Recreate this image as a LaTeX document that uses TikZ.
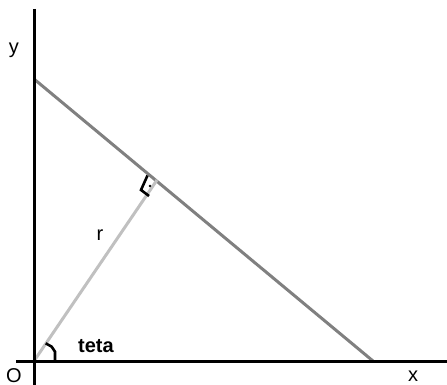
\documentclass[tikz,border=0pt]{standalone}
\usepackage{fontspec}
\setmainfont{Liberation Sans}
\begin{document}
\begin{tikzpicture}[x=1pt,y=-1pt,
  axis/.style={line width=3pt,black},
  hyp/.style={line width=3pt,color={rgb,255:red,128;green,128;blue,128}},
  rad/.style={line width=3pt,color={rgb,255:red,192;green,192;blue,192}},
  anglemark/.style={line width=2.6pt,black,line join=miter},
  lbl/.style={inner sep=0pt,anchor=base,font=\fontsize{20}{24}\selectfont},
  lblb/.style={lbl,font=\fontsize{20}{24}\selectfont\bfseries}]
\useasboundingbox (0,0) rectangle (447,385);
\coordinate (O) at (34,361);
\coordinate (ytop) at (34,9);
\coordinate (ybot) at (34,385);
\coordinate (xl) at (16,361);
\coordinate (xr) at (447,361);
\coordinate (A) at (34,79);
\coordinate (B) at (373,361);
\coordinate (F) at (157,180);
\draw[hyp] (A) -- (B);
\draw[rad] (O) -- (F);
\draw[axis] (ytop) -- (ybot);
\draw[axis] (xl) -- (xr);
\draw[anglemark] (147.5,175.5) -- (141,190) -- (149,196);
\fill (150,186) circle (1.3);
\draw[anglemark] (45.7,343.3) -- (51.7,346.7) -- (55,351.7) -- (55,361);
\node[lbl] (ly) at (14,54) {y};
\node[lbl] (lr) at (100,240) {r};
\node[lblb] (lt) at (96,352) {teta};
\node[lbl] (lO) at (14,382) {O};
\node[lbl] (lx) at (413,381) {x};
\end{tikzpicture}
\end{document}
